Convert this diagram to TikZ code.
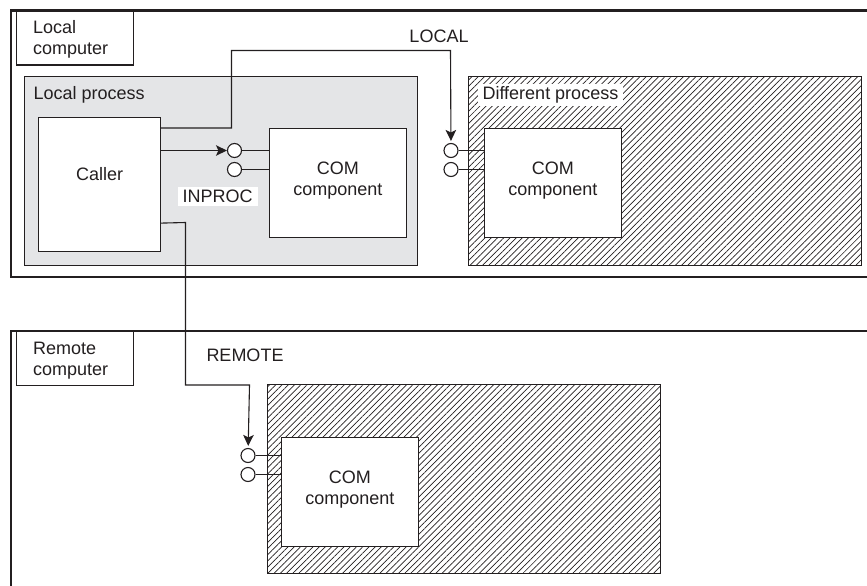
\documentclass[tikz,border=0pt]{standalone}
\usepackage{fontspec}
\setmainfont{Liberation Sans}
\usetikzlibrary{arrows.meta, patterns.meta, positioning}
\definecolor{inkgray}{RGB}{35, 31, 32}
\definecolor{procgray}{RGB}{228, 229, 231}

\begin{document}
\begin{tikzpicture}[
  x=1pt, y=-1pt,
  line width=1.1pt, draw=inkgray, text=inkgray,
  frame/.style={line width=2.6pt, draw=inkgray},
  box/.style={rectangle, draw=inkgray, fill=white, anchor=north west, align=left, font=\fontsize{18}{21}\selectfont},
  tag/.style={box, minimum width=117pt, minimum height=54pt, inner xsep=0pt},
  region/.style={box, minimum width=393pt, minimum height=189pt},
  hatched/.style={region, pattern={Lines[angle=45, distance=4.4pt, line width=0.7pt]}, pattern color=inkgray},
  comp/.style={box, minimum width=136.5pt, minimum height=109pt},
  iface/.style={circle, draw=inkgray, fill=white, minimum size=14pt, inner sep=0pt},
  txt/.style={font=\fontsize{18}{21.5}\selectfont, inner sep=0pt},
  blank/.style={txt, fill=white},
  call/.style={-{Stealth[length=11pt, width=10.5pt, inset=2.5pt]}, draw=inkgray},
]
  \useasboundingbox (0,0) rectangle (867,586);

  % computers
  \draw[frame] (867,10.5) -- (11,10.5) -- (11,277) -- (867,277);
  \draw[frame] (867,331) -- (11,331) -- (11,586);
  \node[tag, label={[txt, align=left, anchor=north west, xshift=17pt, yshift=-9pt]north west:Local\\computer}] (localpc) at (15.5,10.5) {};
  \node[tag, label={[txt, align=left, anchor=north west, xshift=17pt, yshift=-10.5pt]north west:Remote\\computer}] (remotepc) at (15.5,331) {};

  % processes
  \node[region, fill=procgray] (localproc) at (23.5,76) {};
  \node[txt, anchor=west] (localtxt) at (33,95) {Local process};
  \node[hatched] (diffproc) at (468,76) {};
  \node[blank, anchor=west, inner xsep=5pt, inner ysep=3pt] (difftxt) at (477,95) {Different process};
  \node[hatched] (remoteproc) at (267,384) {};

  % components
  \node[box, minimum width=122pt, minimum height=134pt, label={[txt, yshift=10pt]center:Caller}] (caller) at (38,117) {};
  \node[comp, label={[txt, align=center, yshift=2.5pt]center:COM\\component}] (inproc) at (269,128) {};
  \node[comp, label={[txt, align=center, yshift=2.5pt]center:COM\\component}] (outproc) at (484,128) {};
  \node[comp, label={[txt, align=center, yshift=2.5pt]center:COM\\component}] (remote) at (281,437) {};

  % interfaces
  \node[iface] (ina) at (234.5,150.5) {};
  \node[iface] (inb) at (234.5,169.5) {};
  \node[iface] (outa) at (451,150.5) {};
  \node[iface] (outb) at (451,169.5) {};
  \node[iface] (rema) at (248,455.5) {};
  \node[iface] (remb) at (248,474.5) {};
  \draw (ina) -- (ina -| inproc.west);
  \draw (inb) -- (inb -| inproc.west);
  \draw (outa) -- (outa -| outproc.west);
  \draw (outb) -- (outb -| outproc.west);
  \draw (rema) -- (rema -| remote.west);
  \draw (remb) -- (remb -| remote.west);

  % calls
  \draw[call] (caller.east |- ina) -- (ina);
  \draw[call, shorten >=2pt] ([yshift=-11pt]caller.north east) -- (231.5,128) -- (231.5,50.5) -- (450.5,50.5) -- (outa);
  \draw[call, shorten >=2pt] ([yshift=29pt]caller.south east) -- (185.5,222.5) -- (185.5,385) -- (249.5,385) -- (rema);

  \node[blank, anchor=center, inner xsep=5pt, inner ysep=3pt] (inproctxt) at (217.5,196.5) {INPROC};
  \node[txt] (localcall) at (439,36) {LOCAL};
  \node[txt] (remotecall) at (245,355.5) {REMOTE};
\end{tikzpicture}
\end{document}
